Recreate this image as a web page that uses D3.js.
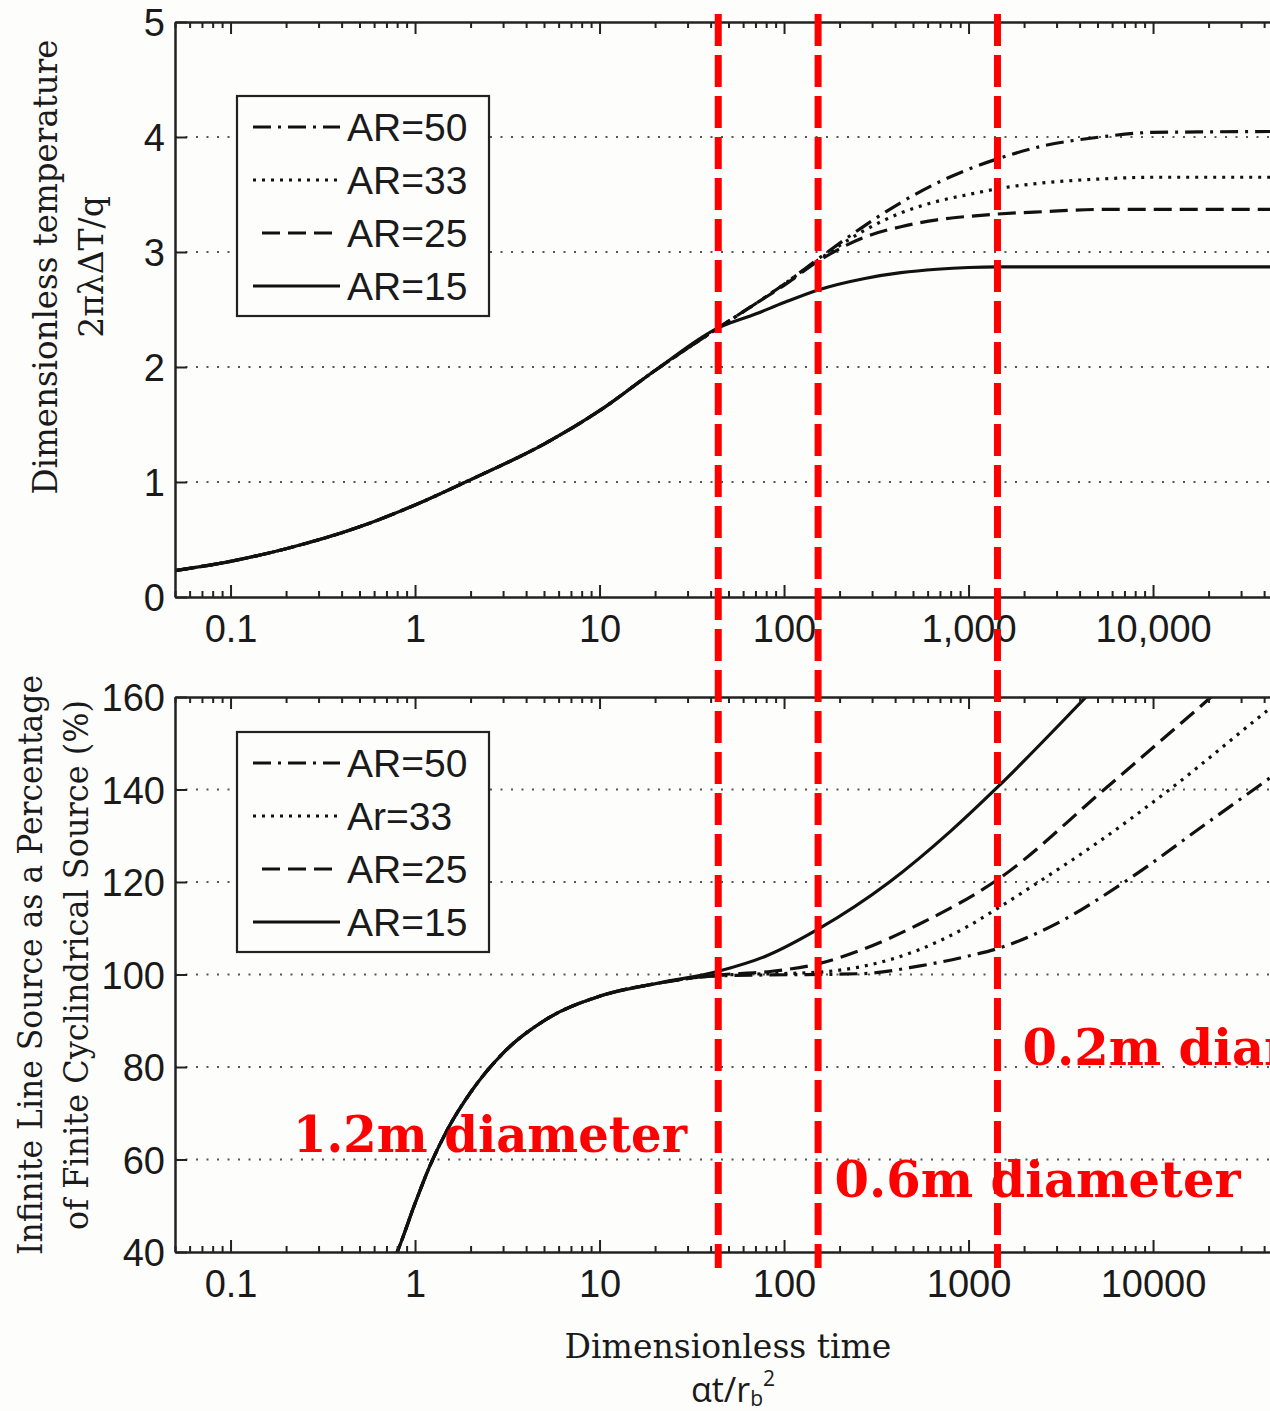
<!DOCTYPE html>
<html>
<head>
<meta charset="utf-8">
<script src="https://cdn.jsdelivr.net/npm/d3@7"></script>
<style>
  body { margin: 0; background: #fdfdfb; }
  svg { display: block; }
</style>
</head>
<body>
<script>
'use strict';

// ---- data ----
// top panel: dimensionless temperature, all curves share the early part
var headTime = [0.05, 0.1, 0.2, 0.5, 1, 2, 5, 10, 20, 44];
var headTemp = [0.23, 0.31, 0.42, 0.61, 0.80, 1.02, 1.33, 1.62, 1.97, 2.34];

var tailTime = [70, 100, 153, 274, 430, 675, 1000, 1435, 2500, 5190, 10000, 100000];
var tempAR50 = [2.55, 2.72, 2.94, 3.23, 3.43, 3.60, 3.72, 3.81, 3.92, 4.00, 4.04, 4.05];
var tempAR33 = [2.55, 2.72, 2.93, 3.19, 3.34, 3.44, 3.50, 3.55, 3.60, 3.635, 3.65, 3.65];
var tempAR25 = [2.55, 2.71, 2.92, 3.13, 3.22, 3.28, 3.31, 3.33, 3.35, 3.37, 3.37, 3.37];
var tempAR15 = [2.46, 2.56, 2.67, 2.77, 2.82, 2.85, 2.865, 2.87, 2.87, 2.87, 2.87, 2.87];

// bottom panel: ILS as a percentage of finite cylindrical source
var headTimePct = [0.75, 0.8, 1, 1.2, 1.5, 2, 3, 5, 10, 20];
var headPct = [37.5, 40, 50.5, 58.5, 66.5, 74.5, 83, 90, 95.3, 98];

var timeAR50 = [44, 270, 535, 1000, 1435, 3000, 7000, 20000, 43000, 100000];
var pctAR50 = [99.7, 100.2, 101.8, 104, 105.6, 111, 120, 133, 142.5, 153];
var timeAR33 = [44, 153, 270, 535, 1000, 1435, 2400, 5000, 12300, 43000, 60000];
var pctAR33 = [99.8, 100.5, 101.8, 105.3, 110.5, 114.3, 120, 128.5, 140, 157.5, 162];
var timeAR25 = [44, 86, 153, 270, 535, 1435, 5440, 20000, 40000];
var pctAR25 = [99.9, 100.7, 102.3, 105.5, 110.8, 120.5, 140, 159.5, 170];
var timeAR15 = [44, 80, 153, 373, 800, 1435, 4335, 8000];
var pctAR15 = [100.7, 104, 109.8, 120, 131, 140.5, 160, 171];

var legendTop = ["AR=50", "AR=33", "AR=25", "AR=15"];
var legendBottom = ["AR=50", "Ar=33", "AR=25", "AR=15"];

var xDecades = [0.1, 1, 10, 100, 1000, 10000, 100000];
var xLabels = [0.1, 1, 10, 100, 1000, 10000];
var yTicksTop = [0, 1, 2, 3, 4, 5];
var yTicksBottom = [40, 60, 80, 100, 120, 140, 160];

// the three borehole diameters, as dimensionless time
var markerTimes = [44, 153, 1435];
var markerLabels = [
  { text: "1.2m diameter", t: 0.218, v: 61.6, len: 394 },
  { text: "0.6m diameter", t: 188, v: 51.9, len: 406 },
  { text: "0.2m diameter", t: 1963, v: 80.5, len: 406 }
];

// ---- layout ----
var width = 1270, height = 1411;
var left = 175;
var decade = 184.5;

var svg = d3.select("body").append("svg")
  .attr("width", width)
  .attr("height", height);

svg.append("rect").attr("width", width).attr("height", height).attr("fill", "#fdfdfb");

var x = d3.scaleLog()
  .domain([0.05, 100000])
  .range([left, left + Math.log10(100000 / 0.05) * decade]);

var yTop = d3.scaleLinear().domain([0, 5]).range([597, 22]);
var yBot = d3.scaleLinear().domain([40, 160]).range([1252, 697]);

var minorTicks = [];
for (var e = -2; e <= 5; e++) {
  for (var k = 2; k <= 9; k++) {
    var v = k * Math.pow(10, e);
    if (v >= 0.05 && v <= 100000) minorTicks.push(v);
  }
}

var styles = [
  { dash: "18,7,3,7" },
  { dash: "3,6" },
  { dash: "18,8" },
  { dash: null }
];

function join(a, b) {
  return a.map(function (t, i) { return [t, b[i]]; });
}

function drawPanel(opts) {
  var y = opts.y;
  var x0 = x.range()[0], x1 = x.range()[1];
  var yb = y.range()[0], yt = y.range()[1];
  var g = svg.append("g");

  g.append("clipPath").attr("id", opts.id)
    .append("rect")
    .attr("x", x0).attr("y", yt)
    .attr("width", x1 - x0).attr("height", yb - yt);

  // dotted grid
  g.append("g").selectAll("line")
    .data(opts.yTicks.slice(1, -1))
    .join("line")
    .attr("x1", x0).attr("x2", x1)
    .attr("y1", function (d) { return y(d); })
    .attr("y2", function (d) { return y(d); })
    .attr("stroke", "#555")
    .attr("stroke-width", 2)
    .attr("stroke-dasharray", "2,8.5");

  // curves
  var line = d3.line()
    .x(function (d) { return x(d[0]); })
    .y(function (d) { return y(d[1]); })
    .curve(d3.curveMonotoneX);

  g.append("g").attr("clip-path", "url(#" + opts.id + ")")
    .selectAll("path")
    .data(opts.series)
    .join("path")
    .attr("d", line)
    .attr("fill", "none")
    .attr("stroke", "#111")
    .attr("stroke-width", 3.2)
    .attr("stroke-dasharray", function (d, i) { return styles[i].dash; });

  // inward ticks on both horizontal edges
  [[d3.axisTop, yb], [d3.axisBottom, yt]].forEach(function (p) {
    g.append("g").attr("transform", "translate(0," + p[1] + ")")
      .call(p[0](x).tickValues(minorTicks).tickSize(6).tickSizeOuter(0).tickFormat(""))
      .call(function (s) { s.select(".domain").remove(); });
    g.append("g").attr("transform", "translate(0," + p[1] + ")")
      .call(p[0](x).tickValues(xDecades).tickSize(12).tickSizeOuter(0).tickFormat(""));
  });

  g.append("g").attr("transform", "translate(" + x0 + ",0)")
    .call(d3.axisRight(y).tickValues(opts.yTicks).tickSize(12).tickSizeOuter(0).tickFormat(""));

  g.selectAll(".domain").attr("stroke", "#222").attr("stroke-width", 2.5);
  g.selectAll(".tick line").attr("stroke", "#222").attr("stroke-width", 2);

  // tick labels
  var xl = g.append("g").attr("transform", "translate(0," + yb + ")")
    .call(d3.axisBottom(x).tickValues(xLabels).tickSize(0).tickFormat(opts.xFormat));
  xl.select(".domain").remove();
  xl.selectAll("text").attr("y", 45).attr("dy", null);

  var yl = g.append("g").attr("transform", "translate(" + x0 + ",0)")
    .call(d3.axisLeft(y).tickValues(opts.yTicks).tickSize(0).tickPadding(10).tickFormat(d3.format("d")));
  yl.select(".domain").remove();
  yl.selectAll("text").attr("dy", "0.36em");

  g.selectAll(".tick text")
    .attr("fill", "#1a1a1a")
    .style("font-family", "'Liberation Sans', Arial, sans-serif")
    .style("font-size", "38px");

  // legend
  var lg = g.append("g").attr("transform", "translate(237," + opts.legendTop + ")");
  lg.append("rect")
    .attr("width", 252).attr("height", 220)
    .attr("fill", "#fdfdfb")
    .attr("stroke", "#222").attr("stroke-width", 2.2);

  var item = lg.selectAll("g.item")
    .data(opts.legend)
    .join("g")
    .attr("class", "item")
    .attr("transform", function (d, i) { return "translate(0," + (31 + i * 53) + ")"; });

  item.append("line")
    .attr("x1", function (d, i) { return i === 2 ? 262 - 237 : 16; })
    .attr("x2", 103)
    .attr("stroke", "#111")
    .attr("stroke-width", 3)
    .attr("stroke-dasharray", function (d, i) { return styles[i].dash; });

  item.append("text")
    .attr("x", 110)
    .attr("dy", "0.36em")
    .attr("fill", "#1a1a1a")
    .style("font-family", "'Liberation Sans', Arial, sans-serif")
    .style("font-size", "39px")
    .text(function (d) { return d; });
}

drawPanel({
  id: "clipTop",
  y: yTop,
  yTicks: yTicksTop,
  xFormat: d3.format(","),
  legend: legendTop,
  legendTop: 96,
  series: [
    join(headTime.concat(tailTime), headTemp.concat(tempAR50)),
    join(headTime.concat(tailTime), headTemp.concat(tempAR33)),
    join(headTime.concat(tailTime), headTemp.concat(tempAR25)),
    join(headTime.concat(tailTime), headTemp.concat(tempAR15))
  ]
});

drawPanel({
  id: "clipBot",
  y: yBot,
  yTicks: yTicksBottom,
  xFormat: function (d) { return String(d); },
  legend: legendBottom,
  legendTop: 732,
  series: [
    join(headTimePct.concat(timeAR50), headPct.concat(pctAR50)),
    join(headTimePct.concat(timeAR33), headPct.concat(pctAR33)),
    join(headTimePct.concat(timeAR25), headPct.concat(pctAR25)),
    join(headTimePct.concat(timeAR15), headPct.concat(pctAR15))
  ]
});

// ---- axis titles ----
var serif = "'DejaVu Serif', 'Liberation Serif', serif";

function yTitle(lines, cy, xs, lens) {
  lines.forEach(function (t, i) {
    var txt = svg.append("text")
      .attr("transform", "translate(" + xs[i] + "," + cy + ") rotate(-90)")
      .attr("text-anchor", "middle")
      .attr("fill", "#1a1a1a")
      .style("font-family", serif)
      .style("font-size", "33px")
      .text(t);
    if (lens[i]) txt.attr("textLength", lens[i]).attr("lengthAdjust", "spacingAndGlyphs");
  });
}

yTitle(["Dimensionless temperature", "2\u03C0\u03BB\u0394T/q"], 267, [57, 103], [455, 0]);
yTitle(["Infinite Line Source as a Percentage", "of Finite Cyclindrical Source (%)"], 965, [42, 88], [580, 530]);

svg.append("text")
  .attr("x", 728).attr("y", 1358)
  .attr("text-anchor", "middle")
  .attr("fill", "#1a1a1a")
  .style("font-family", serif)
  .style("font-size", "33px")
  .text("Dimensionless time");

var sub = svg.append("text")
  .attr("x", 733).attr("y", 1402)
  .attr("text-anchor", "middle")
  .attr("fill", "#1a1a1a")
  .style("font-family", "'Open Sans', 'Liberation Sans', sans-serif")
  .style("font-size", "34px");
sub.append("tspan").text("\u03B1t/r");
sub.append("tspan").attr("dy", 4).style("font-size", "21px").text("b");
sub.append("tspan").attr("dy", -20).style("font-size", "21px").text("2");

// ---- red diameter markers ----
svg.append("g").selectAll("line")
  .data(markerTimes)
  .join("line")
  .attr("x1", function (d) { return x(d); })
  .attr("x2", function (d) { return x(d); })
  .attr("y1", yTop(5) - 8)
  .attr("y2", yBot(40) + 16)
  .attr("stroke", "#ff0000")
  .attr("stroke-width", 7)
  .attr("stroke-dasharray", "32,9");

svg.append("g").selectAll("text")
  .data(markerLabels)
  .join("text")
  .attr("x", function (d) { return x(d.t); })
  .attr("y", function (d) { return yBot(d.v); })
  .attr("textLength", function (d) { return d.len; })
  .attr("lengthAdjust", "spacingAndGlyphs")
  .attr("fill", "#ff0000")
  .style("font-family", serif)
  .style("font-weight", "bold")
  .style("font-size", "50px")
  .text(function (d) { return d.text; });
</script>
</body>
</html>
